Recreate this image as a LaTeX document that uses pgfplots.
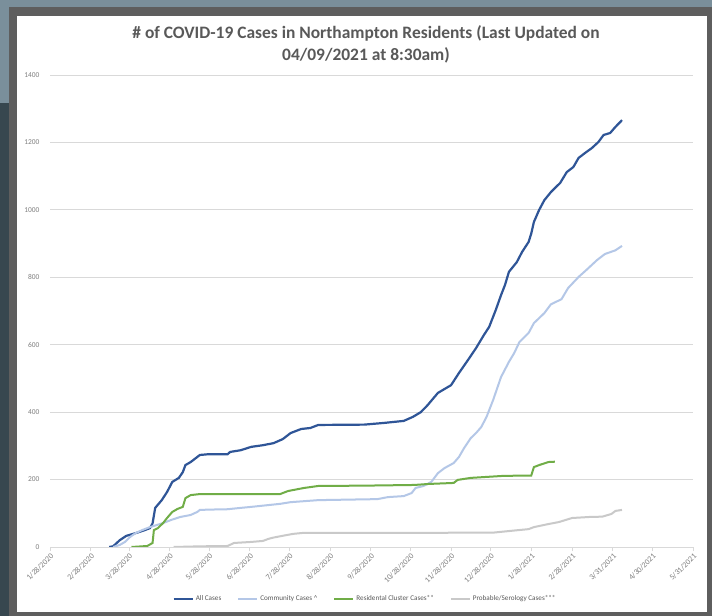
\documentclass[border=0pt]{standalone}
\usepackage{fontspec}
\setmainfont{Carlito}
\usepackage{pgfplots}
\pgfplotsset{compat=1.18}
\definecolor{allc}{HTML}{2F5597}
\definecolor{comm}{HTML}{B4C7E7}
\definecolor{resi}{HTML}{70AD47}
\definecolor{prob}{HTML}{C9C9C9}
\definecolor{bgblue}{HTML}{7A8F9B}
\definecolor{slate}{HTML}{37474F}
\definecolor{border}{HTML}{5E5E5E}
\definecolor{gridgray}{HTML}{D9D9D9}
\definecolor{titlegray}{HTML}{595959}
\definecolor{tickgray}{HTML}{7F7F7F}
\begin{document}
\begin{tikzpicture}
\fill[bgblue] (0bp,0bp) rectangle (712bp,616bp);
\fill[slate] (0bp,0bp) rectangle (9bp,513bp);
\fill[border] (9bp,0bp) rectangle (712bp,609bp);
\fill[white] (17bp,4bp) rectangle (707bp,600bp);
\node[font=\bfseries\fontsize{17.5}{20}\selectfont, text=titlegray] at (366bp,583bp) {\# of COVID-19 Cases in Northampton Residents (Last Updated on};
\node[font=\bfseries\fontsize{17.5}{20}\selectfont, text=titlegray] at (366bp,561bp) {04/09/2021 at 8:30am)};
\begin{axis}[
  at={(50bp,69bp)}, anchor=south west,
  width=643bp, height=472bp, scale only axis,
  xmin=0, xmax=489, ymin=0, ymax=1400,
  ytick={0,200,...,1400},
  xtick={0,31,60,91,121,152,182,213,244,274,305,335,366,397,428,458,489},
  xticklabels={1/28/2020,2/28/2020,3/28/2020,4/28/2020,5/28/2020,6/28/2020,7/28/2020,8/28/2020,9/28/2020,10/28/2020,11/28/2020,12/28/2020,1/28/2021,2/28/2021,3/31/2021,4/30/2021,5/31/2021},
  /pgf/number format/assume math mode=true,
  /pgf/number format/set thousands separator={},
  xticklabel style={rotate=45, anchor=north east, font=\fontsize{8}{9}\selectfont, text=tickgray, inner sep=1bp},
  yticklabel style={font=\fontsize{7.5}{9}\selectfont, text=tickgray, xshift=-3bp},
  ymajorgrids, major grid style={gridgray, line width=0.75bp},
  axis lines*=left,
  y axis line style={draw=none},
  x axis line style={gridgray, line width=0.75bp},
  ytick style={draw=none},
  xtick style={gridgray, line width=0.75bp},
  tick align=outside, major tick length=4bp,
  legend style={at={(0.49,-0.11)}, anchor=center, legend columns=4, draw=none, fill=none,
    font=\fontsize{7.2}{9}\selectfont, text=titlegray,
    /tikz/every even column/.append style={column sep=14bp}},
  legend image code/.code={\draw[#1] (0bp,0bp) -- (19bp,0bp);},
]
\addplot[allc, line width=2.2bp] coordinates {
(45,0)(48,2)(53,20)(58,33)(65,41)(72,50)(76,56)(78,70)(80,116)(85,139)(89,163)(93,193)(98,205)(101,222)(103,243)(107,252)(111,264)(114,273)(120,275)(135,275)(137,282)(145,287)(153,297)(162,302)(170,308)(177,320)(183,338)(191,350)(198,353)(204,362)(239,363)(254,368)(269,374)(276,386)(282,400)(287,420)(295,457)(305,480)(311,516)(319,561)(324,590)(330,629)(334,653)(339,703)(343,747)(346,777)(349,816)(355,845)(359,875)(364,905)(366,930)(368,964)(372,1000)(376,1029)(381,1053)(388,1080)(393,1112)(398,1127)(402,1154)(407,1169)(412,1183)(417,1201)(421,1222)(426,1228)(430,1246)(435,1266)
};
\addlegendentry{All Cases}
\addplot[comm, line width=2bp] coordinates {
(48,0)(53,6)(57,15)(61,30)(65,41)(70,50)(76,59)(86,71)(92,80)(99,89)(107,95)(112,104)(114,110)(122,111)(135,112)(145,116)(153,119)(175,128)(183,133)(204,139)(249,142)(257,148)(269,151)(275,160)(278,175)(284,181)(290,193)(295,219)(300,234)(307,249)(311,267)(315,294)(320,323)(324,338)(328,356)(332,386)(337,436)(343,504)(349,549)(353,575)(357,608)(364,635)(368,664)(376,694)(381,720)(389,735)(394,768)(402,801)(408,822)(416,851)(422,869)(430,880)(435,893)
};
\addlegendentry{Community Cases \^{}}
\addplot[resi, line width=2bp] coordinates {
(62,0)(74,3)(78,12)(79,50)(82,56)(86,71)(89,86)(93,104)(97,113)(101,119)(103,145)(107,154)(114,157)(175,157)(181,166)(193,175)(204,181)(239,182)(277,184)(288,187)(307,190)(310,199)(320,205)(345,211)(366,212)(368,237)(372,243)(379,252)(384,253)
};
\addlegendentry{Residental Cluster Cases**}
\addplot[prob, line width=2bp] coordinates {
(94,0)(114,2)(135,3)(140,12)(153,15)(162,18)(166,24)(170,28)(178,34)(185,39)(193,42)(290,42)(338,43)(356,50)(364,53)(368,59)(379,68)(387,74)(397,86)(410,89)(420,90)(427,98)(430,107)(435,110)
};
\addlegendentry{Probable/Serology Cases***}
\end{axis}
\end{tikzpicture}
\end{document}
